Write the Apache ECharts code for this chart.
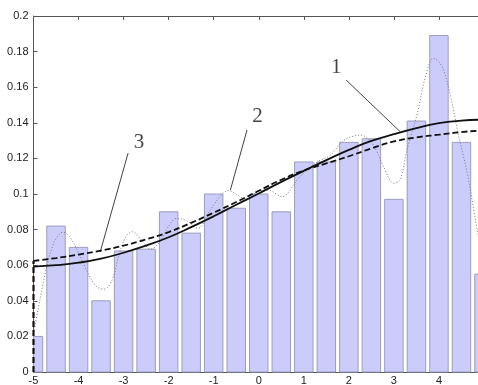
<!DOCTYPE html>
<html>
<head>
<meta charset="utf-8">
<script src="https://cdn.jsdelivr.net/npm/echarts@6/dist/echarts.min.js"></script>
<style>
html, body { margin: 0; padding: 0; background: #fff; }
#chart { width: 478px; height: 385px; }
</style>
</head>
<body>
<div id="chart"></div>
<script>
// Histogram bins (centres and heights); bins are 0.5 wide, bars drawn 0.4 wide
const binCenters = [-5, -4.5, -4, -3.5, -3, -2.5, -2, -1.5, -1, -0.5, 0, 0.5, 1, 1.5, 2, 2.5, 3, 3.5, 4, 4.5, 5];
const binHeights = [0.020, 0.082, 0.070, 0.040, 0.068, 0.069, 0.090, 0.078, 0.100, 0.092, 0.100, 0.090, 0.118, 0.118, 0.129, 0.131, 0.097, 0.141, 0.189, 0.129, 0.055];
const barSpan = 0.41;

// Curve 1 (solid) and curve 2 (dashed), sampled every 0.5
const fitX = [-5, -4.5, -4, -3.5, -3, -2.5, -2, -1.5, -1, -0.5, 0, 0.5, 1, 1.5, 2, 2.5, 3, 3.5, 4, 4.5, 5];
const curve1 = [0.0592, 0.0600, 0.0614, 0.0637, 0.0670, 0.0710, 0.0757, 0.0814, 0.0875, 0.0940, 0.1003, 0.1068, 0.1130, 0.1190, 0.1248, 0.1298, 0.1336, 0.1370, 0.1398, 0.1412, 0.1418];
const curve2 = [0.0624, 0.0640, 0.0660, 0.0682, 0.0710, 0.0745, 0.0786, 0.0838, 0.0895, 0.0955, 0.1018, 0.1080, 0.1132, 0.1172, 0.1212, 0.1256, 0.1295, 0.1318, 0.1333, 0.1348, 0.1358];
// Curve 2 starts from zero at the left boundary
const curve2DropX = [-5, -5];
const curve2DropY = [0, 0.0624];

// Curve 3 (dotted)
const curve3X = [-5, -4.9, -4.8, -4.7, -4.6, -4.5, -4.35, -4.2, -4.0, -3.8, -3.6, -3.43, -3.25, -3.1, -2.95, -2.8, -2.6, -2.4, -2.2, -2.0, -1.82, -1.6, -1.35, -1.1, -0.86, -0.67, -0.45, -0.26, -0.03, 0.2, 0.52, 0.85, 1.1, 1.3, 1.6, 1.88, 2.26, 2.52, 2.77, 3.0, 3.14, 3.29, 3.52, 3.7, 3.88, 4.07, 4.26, 4.44, 4.63, 4.81, 5.0];
const curve3 = [0.022, 0.035, 0.048, 0.060, 0.069, 0.075, 0.0785, 0.076, 0.067, 0.056, 0.048, 0.0465, 0.052, 0.066, 0.076, 0.0788, 0.074, 0.069, 0.073, 0.082, 0.0863, 0.085, 0.0807, 0.090, 0.0985, 0.1019, 0.099, 0.0966, 0.1013, 0.1022, 0.0985, 0.1079, 0.114, 0.118, 0.122, 0.130, 0.1331, 0.1285, 0.1153, 0.106, 0.108, 0.1247, 0.1453, 0.1659, 0.1762, 0.1715, 0.1547, 0.1322, 0.1116, 0.0854, 0.058];

// Curve labels with leader lines
const tagNames = ['1', '2', '3'];
const tagAt = [[1.72, 0.1708], [-0.03, 0.1438], [-2.66, 0.1287]];
const leaderFrom = [[1.94, 0.164], [-0.26, 0.136], [-2.90, 0.123]];
const leaderTo = [[3.14, 0.135], [-0.63, 0.1022], [-3.52, 0.0674]];

// Axis ticks
const xTicks = { min: -5, max: 5, step: 1 };
const yTicks = { min: 0, max: 0.2, step: 0.02 };

const zip = (xs, ys) => xs.map((x, i) => [x, ys[i]]);

const chart = echarts.init(document.getElementById('chart'), null, { renderer: 'canvas' });

const axisColor = '#555';
const labelFont = { color: '#222', fontSize: 11, fontFamily: 'Liberation Sans, Arial, sans-serif' };

const leaderSeries = tagNames.map((t, i) => ({
  type: 'line',
  name: 'leader' + t,
  data: [leaderFrom[i], leaderTo[i]],
  showSymbol: false,
  symbol: 'none',
  silent: true,
  lineStyle: { color: '#111', width: 0.8 },
  z: 6
}));

// Histogram bars, clipped to the plotting area
function renderBar(params, api) {
  const x = api.value(0), h = api.value(1);
  const p0 = api.coord([x - barSpan / 2, h]);
  const p1 = api.coord([x + barSpan / 2, 0]);
  const cs = params.coordSys;
  const rect = echarts.graphic.clipRectByRect(
    { x: p0[0], y: p0[1], width: p1[0] - p0[0], height: p1[1] - p0[1] },
    { x: cs.x, y: cs.y, width: cs.width, height: cs.height }
  );
  return rect && {
    type: 'rect',
    shape: rect,
    style: { fill: '#ccccfb', stroke: '#9c9cc0', lineWidth: 1 }
  };
}

chart.setOption({
  animation: false,
  backgroundColor: '#fff',
  grid: { left: 33.5, right: -6, top: 16, bottom: 13, containLabel: false, outerBoundsMode: 'none' },
  xAxis: [
    {
      type: 'value', min: xTicks.min, max: xTicks.max, interval: xTicks.step,
      axisLine: { show: true, onZero: false, lineStyle: { color: axisColor, width: 1 } },
      axisTick: { show: true, inside: true, length: 4, lineStyle: { color: axisColor } },
      axisLabel: Object.assign({ margin: 3 }, labelFont),
      splitLine: { show: false }
    },
    {
      type: 'value', position: 'top', min: xTicks.min, max: xTicks.max, interval: xTicks.step,
      axisLine: { show: true, onZero: false, lineStyle: { color: axisColor, width: 1 } },
      axisTick: { show: true, inside: true, length: 4, lineStyle: { color: axisColor } },
      axisLabel: { show: false },
      splitLine: { show: false }
    }
  ],
  yAxis: {
    type: 'value', min: yTicks.min, max: yTicks.max, interval: yTicks.step,
    axisLine: { show: true, onZero: false, lineStyle: { color: axisColor, width: 1 } },
    axisTick: { show: true, inside: true, length: 4, lineStyle: { color: axisColor } },
    axisLabel: Object.assign({ margin: 5 }, labelFont),
    splitLine: { show: false }
  },
  series: [
    {
      type: 'custom',
      name: 'histogram',
      data: zip(binCenters, binHeights),
      renderItem: renderBar,
      silent: true,
      z: 1
    },
    {
      type: 'line',
      name: 'curve3',
      data: zip(curve3X, curve3),
      smooth: 0.35,
      showSymbol: false,
      symbol: 'none',
      lineStyle: { color: '#777', width: 1, type: [1, 2] },
      silent: true,
      z: 3
    },
    {
      type: 'line',
      name: 'curve2',
      data: zip(fitX, curve2),
      smooth: true,
      showSymbol: false,
      symbol: 'none',
      lineStyle: { color: '#111', width: 1.8, type: [6, 3] },
      silent: true,
      z: 4
    },
    {
      type: 'line',
      name: 'curve2drop',
      data: zip(curve2DropX, curve2DropY),
      showSymbol: false,
      symbol: 'none',
      lineStyle: { color: '#111', width: 2.2, type: [6, 3] },
      clip: false,
      silent: true,
      z: 4
    },
    {
      type: 'line',
      name: 'curve1',
      data: zip(fitX, curve1),
      smooth: true,
      showSymbol: false,
      symbol: 'none',
      lineStyle: { color: '#111', width: 1.8 },
      silent: true,
      z: 5
    },
    ...leaderSeries,
    {
      type: 'scatter',
      name: 'tags',
      data: tagNames.map((t, i) => ({ value: tagAt[i], name: t })),
      symbolSize: 1,
      itemStyle: { color: 'rgba(0,0,0,0)' },
      label: {
        show: true, position: 'inside', formatter: p => p.name,
        color: '#111', fontSize: 21, fontFamily: 'Liberation Serif, Times New Roman, serif'
      },
      silent: true,
      z: 7
    }
  ]
});
</script>
</body>
</html>
